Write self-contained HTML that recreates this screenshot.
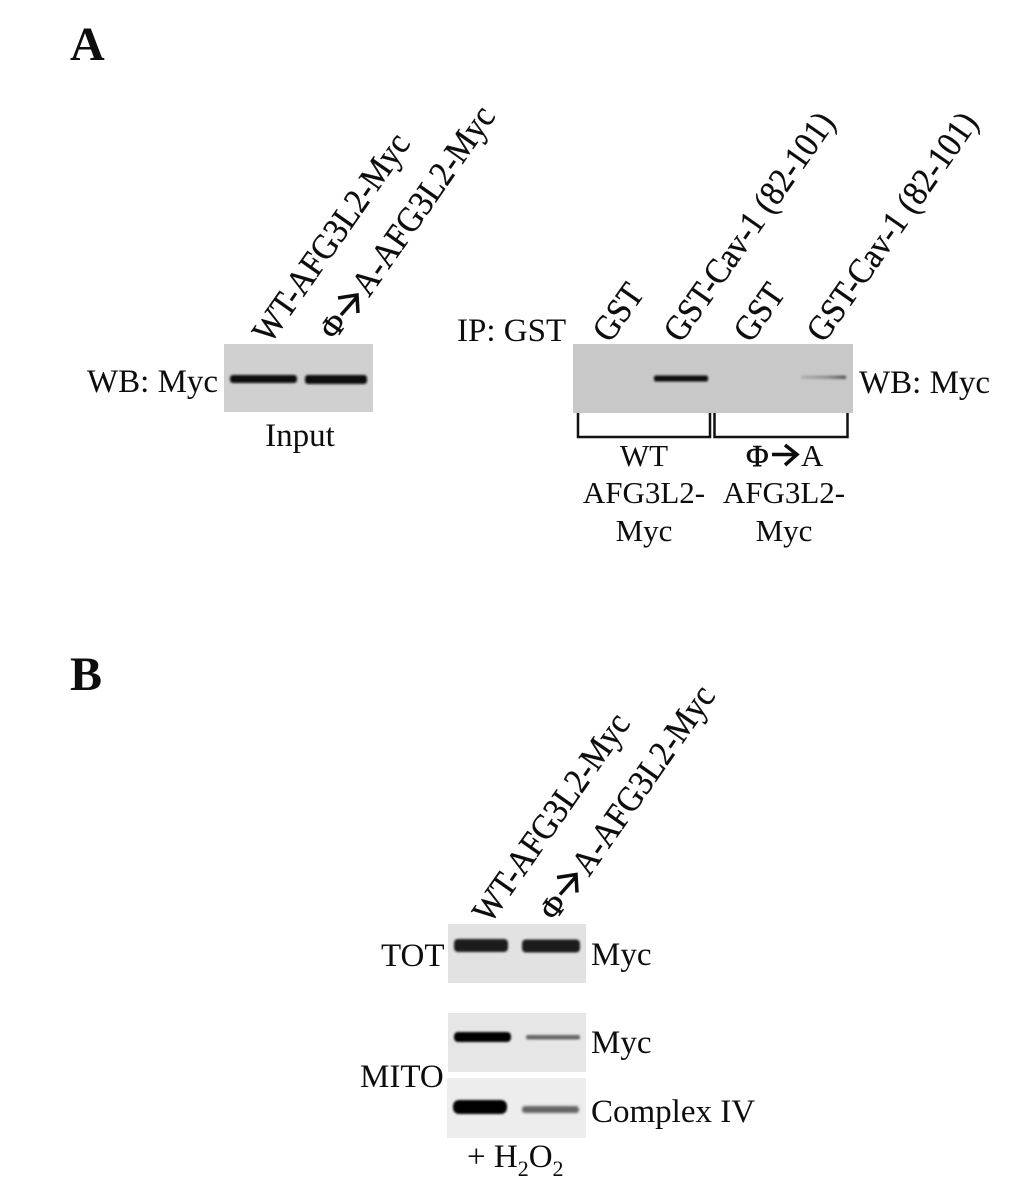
<!DOCTYPE html>
<html><head><meta charset="utf-8"><style>
html,body{margin:0;padding:0;background:#fff;width:1020px;height:1204px;overflow:hidden}
svg{display:block}
text{font-family:"Liberation Serif",serif;font-size:33px;fill:#0a0a0a}
.r{font-size:33px;stroke:#0a0a0a;stroke-width:.3px}
.s{font-size:31px}
.p{font-size:31px;stroke:#0a0a0a;stroke-width:.5px}
</style></head><body>
<svg width="1020" height="1204" viewBox="0 0 1020 1204" xmlns="http://www.w3.org/2000/svg">
<defs>
<filter id="b1" x="-20%" y="-100%" width="140%" height="300%"><feGaussianBlur stdDeviation="1"/></filter>
<filter id="b2" x="-20%" y="-100%" width="140%" height="300%"><feGaussianBlur stdDeviation="1.4"/></filter>
<filter id="t" x="-5%" y="-5%" width="110%" height="110%"><feGaussianBlur stdDeviation="0.35"/></filter>
<linearGradient id="fa"><stop offset="0" stop-color="#b0b0b0"/><stop offset=".6" stop-color="#909090"/><stop offset="1" stop-color="#555"/></linearGradient>
</defs>
<!-- blots -->
<rect x="224" y="344" width="149" height="68" fill="#d0d0d0"/>
<rect x="230" y="375" width="67" height="8" rx="3" fill="#111" filter="url(#b1)"/>
<rect x="305" y="375" width="62" height="9" rx="3" fill="#0c0c0c" filter="url(#b1)"/>
<rect x="573" y="344" width="280" height="69" fill="#c8c8c8"/>
<rect x="654" y="375.500" width="54" height="6" rx="2" fill="#0a0a0a" filter="url(#b1)"/>
<rect x="801" y="375.500" width="45" height="3.500" rx="1" fill="url(#fa)" filter="url(#b1)"/>
<rect x="448" y="924" width="138" height="59" fill="#e2e2e2"/>
<rect x="454" y="939" width="54" height="13" rx="4" fill="#1c1c1c" filter="url(#b1)"/>
<rect x="522" y="939.500" width="58" height="13" rx="4" fill="#1c1c1c" filter="url(#b1)"/>
<rect x="448" y="1013" width="138" height="59" fill="#e6e6e6"/>
<rect x="454" y="1032" width="57" height="10" rx="4" fill="#050505" filter="url(#b1)"/>
<rect x="526" y="1035" width="54" height="4.500" rx="2" fill="#666" filter="url(#b1)"/>
<rect x="447" y="1078" width="139" height="60" fill="#ededed"/>
<rect x="453" y="1100" width="54" height="14" rx="6" fill="#000" filter="url(#b1)"/>
<rect x="522" y="1106" width="57" height="7" rx="3" fill="#666" filter="url(#b2)"/>
<!-- brackets -->
<path d="M578 413V437H710V413M714.500 413V437H847.500V413" fill="none" stroke="#111" stroke-width="2.500"/>
<g filter="url(#t)">
<text x="70" y="60" style="font-size:48px;font-weight:bold">A</text>
<text x="70" y="690" style="font-size:48px;font-weight:bold">B</text>
<!-- Panel A left -->
<text class="r" transform="translate(270 345) rotate(-55) scale(.985 1.08)">WT-AFG3L2-Myc</text>
<text class="p" transform="translate(335 341) rotate(-55)">Φ</text>
<path d="M341 315L357 297M338 298L357 295L358 313" fill="none" stroke="#0a0a0a" stroke-width="3.500"/>
<text class="r" transform="translate(369 298) rotate(-55) scale(.985 1.08)">A-AFG3L2-Myc</text>
<text x="87" y="392">WB: Myc</text>
<text x="300" y="446" text-anchor="middle">Input</text>
<!-- Panel A right -->
<text x="457" y="341">IP: GST</text>
<text class="r" transform="translate(610 344) rotate(-55) scale(.985 1.08)">GST</text>
<text class="r" transform="translate(681 344) rotate(-55) scale(.985 1.08)">GST-Cav-1 (82-101)</text>
<text class="r" transform="translate(751 344) rotate(-55) scale(.985 1.08)">GST</text>
<text class="r" transform="translate(824 344) rotate(-55) scale(.985 1.08)">GST-Cav-1 (82-101)</text>
<text x="859" y="393">WB: Myc</text>
<text class="s" x="644" y="466" text-anchor="middle">WT</text>
<text class="s" x="644" y="503" text-anchor="middle">AFG3L2-</text>
<text class="s" x="644" y="541" text-anchor="middle">Myc</text>
<text class="p" x="746" y="466">Φ</text>
<path d="M772 454.500H796M785 445L797 454.500L785 465" fill="none" stroke="#0a0a0a" stroke-width="3.500"/>
<text class="s" x="801" y="466">A</text>
<text class="s" x="784" y="503" text-anchor="middle">AFG3L2-</text>
<text class="s" x="784" y="541" text-anchor="middle">Myc</text>
<!-- Panel B -->
<text class="r" transform="translate(490 925) rotate(-55) scale(.985 1.08)">WT-AFG3L2-Myc</text>
<text class="p" transform="translate(555 922) rotate(-55)">Φ</text>
<path d="M560 894.500L576 876.500M557 877.500L576 874.500L577 892.500" fill="none" stroke="#0a0a0a" stroke-width="3.500"/>
<text class="r" transform="translate(589 877.500) rotate(-55) scale(.985 1.08)">A-AFG3L2-Myc</text>
<text x="381" y="966">TOT</text>
<text x="591" y="965">Myc</text>
<text x="591" y="1053">Myc</text>
<text x="360" y="1087">MITO</text>
<text x="591" y="1122">Complex IV</text>
<text x="467" y="1167">+ H<tspan dy="9" style="font-size:22px">2</tspan><tspan dy="-9">O</tspan><tspan dy="9" style="font-size:22px">2</tspan></text>
</g>
</svg>
</body></html>
